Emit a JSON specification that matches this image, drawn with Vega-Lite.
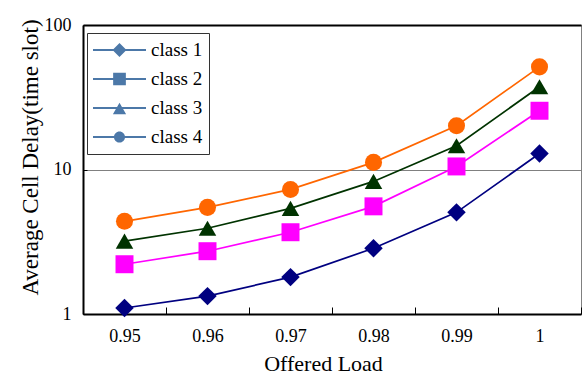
{
  "$schema": "https://vega.github.io/schema/vega-lite/v6.json",
  "width": 498,
  "height": 289,
  "autosize": {"type": "none"},
  "padding": {"left": 83, "top": 25, "right": 1, "bottom": 69},
  "background": "white",
  "config": {
    "view": {"stroke": "#808080", "strokeWidth": 1},
    "font": "Liberation Serif, Times New Roman, serif",
    "axis": {
      "labelFont": "Liberation Serif, Times New Roman, serif",
      "titleFont": "Liberation Serif, Times New Roman, serif",
      "labelColor": "black",
      "titleColor": "black",
      "titleFontWeight": "normal"
    },
    "legend": {
      "labelFont": "Liberation Serif, Times New Roman, serif"
    }
  },
  "data": {
    "values": [
      {"load": "0.95", "class": "class 1", "delay": 1.1},
      {"load": "0.96", "class": "class 1", "delay": 1.33},
      {"load": "0.97", "class": "class 1", "delay": 1.8},
      {"load": "0.98", "class": "class 1", "delay": 2.85},
      {"load": "0.99", "class": "class 1", "delay": 5.05},
      {"load": "1", "class": "class 1", "delay": 12.9},
      {"load": "0.95", "class": "class 2", "delay": 2.21},
      {"load": "0.96", "class": "class 2", "delay": 2.72},
      {"load": "0.97", "class": "class 2", "delay": 3.68},
      {"load": "0.98", "class": "class 2", "delay": 5.56},
      {"load": "0.99", "class": "class 2", "delay": 10.5},
      {"load": "1", "class": "class 2", "delay": 25.5},
      {"load": "0.95", "class": "class 3", "delay": 3.19},
      {"load": "0.96", "class": "class 3", "delay": 3.92},
      {"load": "0.97", "class": "class 3", "delay": 5.38},
      {"load": "0.98", "class": "class 3", "delay": 8.27},
      {"load": "0.99", "class": "class 3", "delay": 14.6},
      {"load": "1", "class": "class 3", "delay": 37.4},
      {"load": "0.95", "class": "class 4", "delay": 4.38},
      {"load": "0.96", "class": "class 4", "delay": 5.47},
      {"load": "0.97", "class": "class 4", "delay": 7.28},
      {"load": "0.98", "class": "class 4", "delay": 11.2},
      {"load": "0.99", "class": "class 4", "delay": 20.1},
      {"load": "1", "class": "class 4", "delay": 51.3}
    ]
  },
  "resolve": {"scale": {"shape": "independent"}, "axis": {"x": "independent"}},
  "layer": [
    {
      "mark": {"type": "line", "strokeWidth": 1.7},
      "encoding": {
        "x": {
          "field": "load", "type": "ordinal",
          "sort": ["0.95", "0.96", "0.97", "0.98", "0.99", "1"],
          "scale": {"type": "band", "paddingInner": 0, "paddingOuter": 0},
          "axis": {
            "title": "Offered Load",
            "titleFontSize": 22,
            "titleX": 240,
            "titleY": 49,
            "titleBaseline": "middle",
            "labelAngle": 0,
            "labelFontSize": 18,
            "labelPadding": 20,
            "domainColor": "black",
            "domainWidth": 2,
            "tickBand": "extent",
            "tickColor": "black",
            "tickSize": -7,
            "grid": false
          }
        },
        "y": {
          "field": "delay", "type": "quantitative",
          "scale": {"type": "log", "domain": [1, 100]},
          "axis": {
            "title": "Average Cell Delay(time slot)",
            "titleFontSize": 23,
            "titleX": -53,
            "titleY": 132,
            "titleAngle": -90,
            "titleAlign": "center",
            "titleBaseline": "middle",
            "values": [1, 10, 100],
            "format": "d",
            "labelFontSize": 18,
            "labelPadding": 16,
            "domainColor": "black",
            "domainWidth": 2,
            "tickColor": "black",
            "tickSize": -4,
            "grid": true,
            "gridColor": "#808080",
            "gridWidth": 1
          }
        },
        "color": {
          "field": "class", "type": "nominal",
          "scale": {"domain": ["class 1", "class 2", "class 3", "class 4"], "range": ["#000080", "#FF00FF", "#003300", "#FF6600"]},
          "legend": null
        }
      }
    },
    {
      "mark": {"type": "point", "filled": true, "opacity": 1},
      "encoding": {
        "x": {"field": "load", "type": "ordinal", "sort": ["0.95", "0.96", "0.97", "0.98", "0.99", "1"], "axis": null},
        "y": {"field": "delay", "type": "quantitative"},
        "color": {"field": "class", "type": "nominal", "legend": null},
        "shape": {
          "field": "class", "type": "nominal",
          "scale": {"domain": ["class 1", "class 2", "class 3", "class 4"], "range": ["diamond", "square", "triangle-up", "circle"]},
          "legend": null
        },
        "size": {
          "field": "class", "type": "nominal",
          "scale": {"domain": ["class 1", "class 2", "class 3", "class 4"], "range": [340, 290, 430, 340]},
          "legend": null
        }
      }
    },
    {
      "mark": {"type": "point", "filled": true, "opacity": 0},
      "encoding": {
        "x": {
          "field": "load", "type": "ordinal", "sort": ["0.95", "0.96", "0.97", "0.98", "0.99", "1"],
          "axis": {"orient": "top", "labels": false, "ticks": false, "title": null, "grid": false, "domainColor": "black", "domainWidth": 2}
        },
        "y": {"field": "delay", "type": "quantitative"},
        "shape": {
          "field": "class", "type": "nominal",
          "scale": {
            "domain": ["class 1", "class 2", "class 3", "class 4"],
            "range": [
              "M-1,-0.035H1V0.035H-1ZM0,-0.264L0.264,0L0,0.264L-0.264,0Z",
              "M-1,-0.035H1V0.035H-1ZM-0.24,-0.24H0.24V0.24H-0.24Z",
              "M-1,-0.035H1V0.035H-1ZM0,-0.2L0.25,0.24H-0.25Z",
              "M-1,-0.035H1V0.035H-1ZM0.21,0A0.21,0.21,0,1,1,-0.21,0A0.21,0.21,0,1,1,0.21,0Z"
            ]
          },
          "legend": {
            "title": null,
            "orient": "none",
            "legendX": 4,
            "legendY": 8,
            "padding": 6,
            "strokeColor": "#333333",
            "fillColor": "white",
            "symbolSize": 2809,
            "symbolStrokeWidth": 0,
            "symbolOpacity": 1,
            "clipHeight": 22,
            "rowPadding": 7,
            "labelFont": "Liberation Serif, Times New Roman, serif",
            "labelFontSize": 19,
            "labelColor": "black",
            "labelOffset": 5,
            "encode": {
              "symbols": {
                "update": {
                  "fill": {"value": {"expr": "scale('color', datum.value)"}},
                  "opacity": {"value": 1}
                }
              }
            }
          }
        }
      }
    }
  ]
}
